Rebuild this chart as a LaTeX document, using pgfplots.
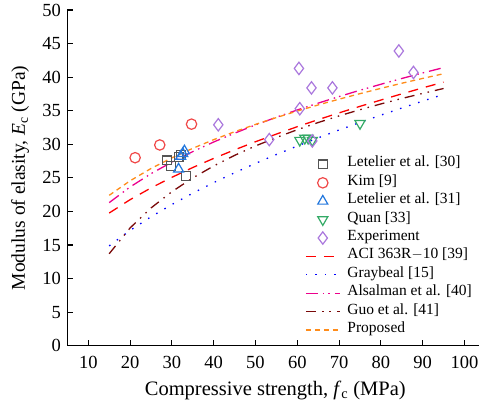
\documentclass[border=0pt]{standalone}
\usepackage{pgfplots}
\pgfplotsset{compat=1.18}
\usepackage{fontspec}
\setmainfont{Liberation Serif}
\definecolor{cgray}{HTML}{555555}
\definecolor{cred}{HTML}{F04848}
\definecolor{cblue}{HTML}{2277DD}
\definecolor{cgreen}{HTML}{33AA66}
\definecolor{cpurple}{HTML}{AA77DD}
\definecolor{corange}{HTML}{FF8C1A}
\definecolor{cdred}{HTML}{7A0A0A}
\begin{document}
\begin{tikzpicture}
\begin{axis}[
  scale only axis,
  width=411.7pt, height=335.7pt,
  xmin=5, xmax=103.5, ymin=0, ymax=50,
  axis lines*=left,
  axis line style={line width=1.1pt},
  tick align=inside,
  major tick length=6pt,
  tick style={line width=1.1pt, black},
  xtick={10,20,...,100}, ytick={0,5,...,50},
  /pgf/number format/assume math mode=true,
  ticklabel style={font=\fontsize{18.5}{21}\selectfont},
  xticklabel style={inner sep=0pt, anchor=north, yshift=-10pt},
  yticklabel style={inner sep=0pt, anchor=east, xshift=-6.4pt},
  every axis x label/.style={at={(axis description cs:0.505,0)}, anchor=base, yshift=-49.3pt, font=\fontsize{20.5}{23}\selectfont},
  every axis y label/.style={at={(axis description cs:-0.115,0.5)}, rotate=90, anchor=center, font=\fontsize{19.5}{22}\selectfont},
  xlabel={Compressive strength, \textit{f}\textsubscript{c} (MPa)},
  ylabel={Modulus of elasity, \textit{E}\textsubscript{c} (GPa)},
  legend image code/.code={\draw[mark repeat=2,mark phase=2,#1] plot coordinates {(0pt,0pt)(17pt,0pt)(34pt,0pt)};},
  legend cell align=left,
  legend style={draw=none, fill=none, at={(axis description cs:0.577,0.568)}, anchor=north west,
    inner sep=0pt, column sep=7pt, font=\fontsize{15.5}{17}\selectfont,
    nodes={inner sep=0pt, text height=11.6pt, text depth=6.8pt}},
]
\addplot[only marks, mark=square, mark size=4.4pt, draw=cgray, line width=1.2pt] coordinates {
(28.9,27.6) (29.8,26.8) (31.6,28.1) (32.2,28.4) (33.4,25.3)};
\addlegendentry{Letelier et al. [30]}
\addplot[only marks, mark=o, mark size=5.2pt, draw=cred, line width=1.2pt] coordinates {
(21.2,28.0) (27.1,29.9) (34.7,33.0)};
\addlegendentry{Kim [9]}
\addplot[only marks, mark=triangle, mark size=5.8pt, draw=cblue, line width=1.2pt] coordinates {
(31.6,26.3) (32.1,28.2) (32.6,28.6) (33.0,29.0)};
\addlegendentry{Letelier et al. [31]}
\addplot[only marks, mark=triangle, mark options={rotate=180}, mark size=5.8pt, draw=cgreen, line width=1.2pt] coordinates {
(60.6,30.6) (61.8,30.9) (62.6,30.9) (63.6,30.6) (75.0,33.1)};
\addlegendentry{Quan [33]}
\addplot[only marks, mark=diamond, mark size=6.2pt, draw=cpurple, line width=1.2pt] coordinates {
(41.1,32.9) (53.3,30.7) (60.4,41.3) (60.6,35.3) (63.4,38.4) (63.6,30.5) (68.4,38.4) (84.3,43.9) (87.8,40.7)};
\addlegendentry{Experiment}
\addplot[no marks, color=red, line width=1.3pt, dash pattern=on 10pt off 8pt] coordinates {
(15,19.76) (20,21.75) (25,23.50) (30,25.08) (35,26.54) (40,27.90) (45,29.17) (50,30.38) (55,31.52) (60,32.62) (65,33.67) (70,34.68) (75,35.65) (80,36.59) (85,37.51) (90,38.40) (95,39.26)};
\addlegendentry{ACI 363R$-$10 [39]}
\addplot[no marks, color=blue, line width=1.3pt, dash pattern=on 1.5pt off 8pt] coordinates {
(15,14.87) (20,17.17) (25,19.20) (30,21.03) (35,22.72) (40,24.29) (45,25.76) (50,27.15) (55,28.48) (60,29.74) (65,30.96) (70,32.13) (75,33.25) (80,34.34) (85,35.40) (90,36.43) (95,37.43)};
\addlegendentry{Graybeal [15]}
\addplot[no marks, color=magenta, line width=1.3pt, dash pattern=on 12pt off 5pt on 1.5pt off 4pt on 1.5pt off 5pt] coordinates {
(15,21.31) (20,23.64) (25,25.62) (30,27.35) (35,28.91) (40,30.34) (45,31.65) (50,32.88) (55,34.03) (60,35.11) (65,36.13) (70,37.11) (75,38.05) (80,38.94) (85,39.80) (90,40.63) (95,41.42)};
\addlegendentry{Alsalman et al. [40]}
\addplot[no marks, color=cdred, line width=1.3pt, dash pattern=on 10pt off 6pt on 1.5pt off 6pt on 1.5pt off 6pt] coordinates {
(15,13.70) (20,17.54) (25,20.51) (30,22.94) (35,24.99) (40,26.77) (45,28.35) (50,29.75) (55,31.01) (60,32.17) (65,33.24) (70,34.23) (75,35.15) (80,36.01) (85,36.82) (90,37.58) (95,38.31)};
\addlegendentry{Guo et al. [41]}
\addplot[no marks, color=corange, line width=1.3pt, dash pattern=on 5pt off 4pt] coordinates {
(15,22.40) (20,24.56) (25,26.39) (30,27.98) (35,29.40) (40,30.69) (45,31.87) (50,32.96) (55,33.98) (60,34.95) (65,35.86) (70,36.72) (75,37.54) (80,38.33) (85,39.09) (90,39.81) (95,40.51)};
\addlegendentry{Proposed}
\end{axis}
\pgfresetboundingbox
\path[use as bounding box] (-67.4pt,-59.3pt) rectangle (412.6pt,345.7pt);
\end{tikzpicture}
\end{document}
